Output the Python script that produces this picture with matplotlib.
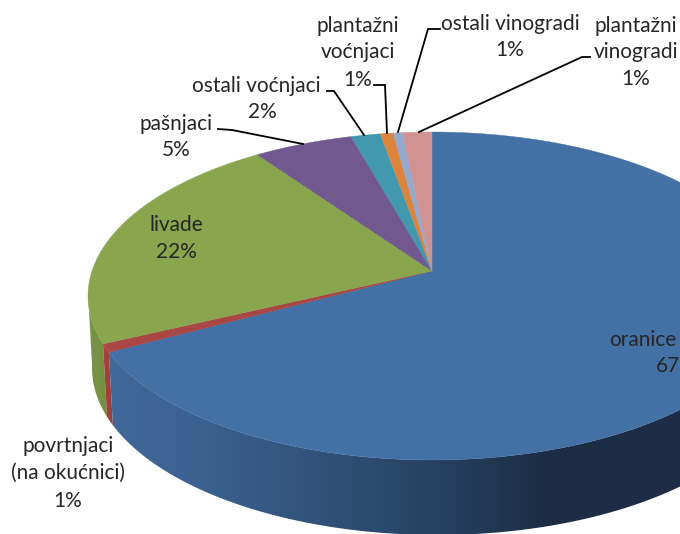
import numpy as np
import matplotlib
matplotlib.use("Agg")
import matplotlib.pyplot as plt
from matplotlib.colors import to_rgb
from matplotlib.patches import Polygon

# clockwise from 12 o'clock; shares (labels are the printed, rounded ones)
categories = ["oranice", "povrtnjaci", "livade", "pašnjaci", "ostali voćnjaci",
              "plantažni voćnjaci", "ostali vinogradi", "plantažni vinogradi"]
values = [67.2, 0.8, 22.2, 5.4, 1.6, 0.7, 0.5, 1.6]
top_colors = ["#4371A6", "#AA4643", "#89A54E", "#71588F", "#4198AF", "#DB843D", "#93A9CF", "#D19392"]

W, H = 680, 534
CX, CY, A, B = 432, 296, 344, 164      # top ellipse
CX2, CY2, A2, B2 = 437, 368, 345, 167  # bottom ellipse
APEX = (432, 271)
E = (CY - APEX[1]) / B

fig = plt.figure(figsize=(W / 100, H / 100), dpi=100)
ax = fig.add_axes([0, 0, 1, 1])
ax.set_xlim(0, W)
ax.set_ylim(H, 0)
ax.axis("off")


def share_to_param(p):
    """Fraction of the pie (clockwise from top) -> (cos, sin) on the unit ellipse, with perspective."""
    th = 2 * np.pi * np.asarray(p)
    x, y = np.sin(th), -np.cos(th)
    d = 1 - E * y
    return x * np.sqrt(1 - E ** 2) / d, (y - E) / d


def top_pt(c, s):
    return CX + A * c, CY + B * s


def bot_pt(c, s):
    return CX2 + A2 * c, CY2 + B2 * s


blue_side = [(105, "#41699B"), (200, "#3A6190"), (320, "#315279"), (440, "#264160"),
             (550, "#1B2C43"), (680, "#1E2E46")]
side_stops = {0: blue_side,
              1: [(100, "#A8433F"), (115, "#9C3D3A")],
              2: [(85, "#7C9646"), (120, "#6F8A3D")]}


def gradient(stops):
    xs = [s[0] for s in stops]
    cols = np.array([to_rgb(s[1]) for s in stops])
    grid = np.arange(W) + 0.5
    return np.stack([np.interp(grid, xs, cols[:, i]) for i in range(3)], axis=-1)[None, :, :]


total = sum(values)
edges = np.concatenate([[0], np.cumsum(values)]) / total

# side wall: visible front part only, horizontal gradient clipped to each slice's wall
for i in [2, 1, 0]:
    ps = np.linspace(edges[i], edges[i + 1], 500)
    cs, ss = share_to_param(ps)
    keep = ss > -0.02
    tx, ty = top_pt(cs[keep], ss[keep])
    bx, by = bot_pt(cs[keep], ss[keep])
    poly = Polygon(np.c_[np.r_[tx, bx[::-1]], np.r_[ty, by[::-1]]], closed=True,
                   transform=ax.transData, fc="none", ec="none")
    ax.add_patch(poly)
    im = ax.imshow(gradient(side_stops[i]), extent=(0, W, H, 0), aspect="auto", zorder=2,
                   interpolation="bilinear")
    im.set_clip_path(poly)
ax.set_xlim(0, W)
ax.set_ylim(H, 0)

# top surface
for i, col in enumerate(top_colors):
    ps = np.linspace(edges[i], edges[i + 1], max(8, int(values[i] * 12)))
    cs, ss = share_to_param(ps)
    xs, ys = top_pt(cs, ss)
    ax.fill(np.r_[APEX[0], xs], np.r_[APEX[1], ys], color=col, lw=0.3, zorder=3)

# leader lines
leaders = [
    ([218, 232, 303], [129, 130, 144]),
    ([327, 334, 364], [91, 91, 135]),
    ([374, 385, 387], [85, 85, 133]),
    ([440, 428, 398], [29, 29, 132]),
    ([590, 582, 419], [57, 57, 132]),
]
for lx, ly in leaders:
    ax.plot(lx, ly, color="black", lw=1.3, solid_joinstyle="miter", zorder=4)

# labels: (x, y, text)
FS = 15
labels = [
    (643, 340, "oranice"),
    (176, 225, "livade"), (176, 252, "22%"),
    (176, 124, "pašnjaci"), (176, 150, "5%"),
    (256, 86, "ostali voćnjaci"), (262, 112, "2%"),
    (358, 26, "plantažni"), (358, 52, "voćnjaci"), (358, 80, "1%"),
    (510, 24, "ostali vinogradi"), (510, 50, "1%"),
    (636, 26, "plantažni"), (636, 52, "vinogradi"), (636, 79, "1%"),
    (68, 446, "povrtnjaci"), (68, 473, "(na okućnici)"), (68, 501, "1%"),
]
for x, y, t in labels:
    ax.text(x, y, t, ha="center", va="center", family="Lato", fontsize=FS, color="#262626", zorder=5)
ax.text(656, 366, "67%", ha="left", va="center", family="Lato", fontsize=FS, color="#262626",
        zorder=5, clip_on=True)

fig.savefig("out.png", dpi=100, facecolor="white")
